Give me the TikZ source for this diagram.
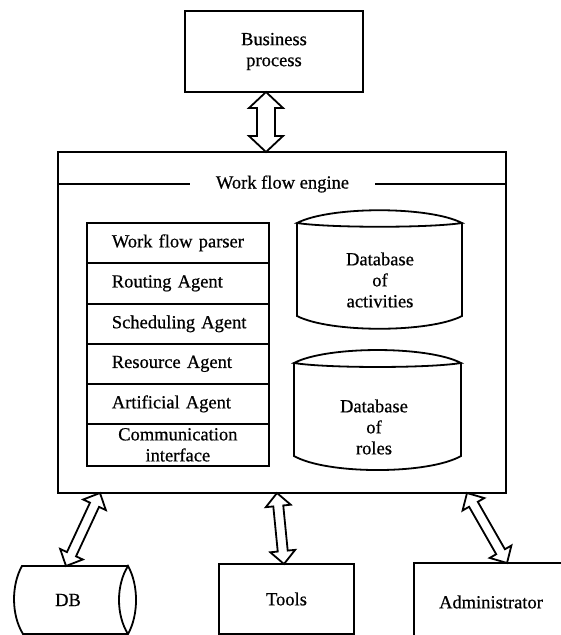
\documentclass[tikz,border=0pt]{standalone}
\usepackage{fontspec}
\setmainfont{Liberation Serif}[FakeBold=0.6]
\usetikzlibrary{calc}
\tikzset{
  txt/.style={font=\fontsize{18.5}{21}\selectfont},
  box/.style={txt, draw, line width=1.8pt, rectangle, inner sep=0pt, align=center},
  rowbox/.style={txt, draw, line width=1.7pt, rectangle, inner sep=0pt, text width=182pt, minimum height=#1, anchor=north west, align=left},
  lbl/.style={txt, inner sep=0pt, align=center},
  outline/.style={line width=1.8pt, line join=miter},
  fatstyle/.style={line width=1.8pt, fill=white, line join=miter},
}
\newcommand\fatarr[5]{%
  \draw[fatstyle] (#1)
   -- ($(#1)!#3!(#2)!#4!90:(#2)$)
   -- ($(#1)!#3!(#2)!#5!90:(#2)$)
   -- ($(#2)!#3!(#1)!#5!-90:(#1)$)
   -- ($(#2)!#3!(#1)!#4!-90:(#1)$)
   -- (#2)
   -- ($(#2)!#3!(#1)!#4!90:(#1)$)
   -- ($(#2)!#3!(#1)!#5!90:(#1)$)
   -- ($(#1)!#3!(#2)!#5!-90:(#2)$)
   -- ($(#1)!#3!(#2)!#4!-90:(#2)$)
   -- cycle;}
\begin{document}
\begin{tikzpicture}[x=1pt,y=-1pt]
\useasboundingbox (0,0) rectangle (561,635);
\clip (0,0) rectangle (561,635);

% Business process
\node[box, minimum width=178pt, minimum height=81pt] (bp) at (274,51.5) {Business\\process};

% Engine
\node[box, minimum width=448pt, minimum height=341pt] (engine) at (282,322.5) {};
\node[lbl, minimum width=185pt] (title) at (282.5,184) {Work flow engine};
\draw[outline] (title.west) -- (title.west -| engine.west);
\draw[outline] (title.east) -- (title.east -| engine.east);

% Stack of agents
\node[rowbox=40pt] (r1) at (86,222) {\hspace*{25pt}Work flow parser};
\node[rowbox=41pt] (r2) at (86,262) {\hspace*{25pt}Routing Agent};
\node[rowbox=40pt] (r3) at (86,303) {\hspace*{25pt}Scheduling Agent};
\node[rowbox=40pt] (r4) at (86,343) {\hspace*{25pt}Resource Agent};
\node[rowbox=40pt] (r5) at (86,383) {\hspace*{25pt}Artificial Agent};
\node[rowbox=42pt, align=center] (r6) at (86,423) {Communication\\interface};

% Database of activities
\draw[outline] (297,223) .. controls (330,206) and (429,206) .. (462,223)
  .. controls (429,228) and (330,228) .. (297,223) -- cycle;
\draw[outline] (297,223) -- (297,316) .. controls (330,333) and (429,333) .. (462,316) -- (462,223);
\node[lbl] (dbact) at (380,280) {Database\\of\\activities};

% Database of roles
\draw[outline] (294,363) .. controls (327,345.7) and (428,345.7) .. (461,363)
  .. controls (428,368.3) and (327,368.3) .. (294,363) -- cycle;
\draw[outline] (294,363) -- (294,456) .. controls (327,474.7) and (428,474.7) .. (461,456) -- (461,363);
\node[lbl] (dbroles) at (374,427) {Database\\of\\roles};

% DB (horizontal cylinder)
\draw[outline] (128,566) -- (22,566) .. controls (11.2,585) and (11.2,615) .. (23,634) -- (128,634);
\draw[outline] (128,566) .. controls (138.7,585) and (138.7,615) .. (128,634)
  .. controls (116,615) and (116,585) .. (128,566) -- cycle;
\node[lbl] (db) at (68,600) {DB};

% Tools
\node[box, minimum width=135pt, minimum height=70pt] (tools) at (286.5,599) {Tools};

% Administrator (cropped)
\draw[outline] (414,700) -- (414,563) -- (620,563);
\node[lbl] (admin) at (491,602) {Administrator};

% Connectors
\coordinate (a1s) at (266,92);
\coordinate (a1e) at (266,152);
\fatarr{a1s}{a1e}{16pt}{17pt}{9pt}

\coordinate (e1) at (100,493);
\coordinate (d1) at (66,566);
\fatarr{e1}{d1}{13pt}{12.5pt}{5pt}

\coordinate (e2) at (277,493);
\coordinate (t2) at (284,564);
\fatarr{e2}{t2}{13pt}{12.5pt}{5pt}

\coordinate (e3) at (467,493);
\coordinate (a3) at (507,563);
\fatarr{e3}{a3}{13pt}{12.5pt}{5pt}
\end{tikzpicture}
\end{document}
